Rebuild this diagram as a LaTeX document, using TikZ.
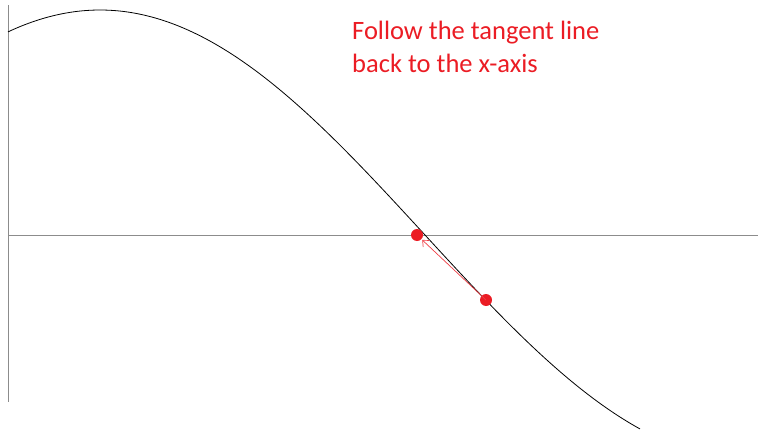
\documentclass[tikz,border=0pt]{standalone}
\usepackage{fontspec}
\setmainfont{Carlito}
\usetikzlibrary{arrows.meta}
\definecolor{myred}{RGB}{235,28,36}
\definecolor{axisgray}{RGB}{140,140,140}
\tikzset{
  axisline/.style={draw=axisgray, line width=0.9pt},
  curveline/.style={draw=black, line width=0.8pt},
  dot/.style={circle, fill=myred, inner sep=0pt, minimum size=12pt},
  tangentarrow/.style={draw=myred!85, line width=0.7pt, -{Straight Barb[length=5pt,width=9pt]}, shorten >=1pt},
  note/.style={text=myred, font=\fontsize{26.5}{33}\selectfont, align=left, anchor=base west, inner sep=0pt}
}
\begin{document}
\begin{tikzpicture}[x=1pt, y=-1pt]
  \useasboundingbox (0,0) rectangle (758,431);
  \coordinate (ytop) at (8,5);
  \coordinate (ybot) at (8,402);
  \coordinate (xleft) at (8,235);
  \coordinate (xright) at (758,235);
  \draw[axisline] (ytop) -- (ybot);
  \draw[axisline] (xleft) -- (xright);
  \draw[curveline] plot[domain=8:640, samples=200, smooth] (\x, {235-225*cos(deg((\x-100)*pi/650))});
  \node[dot] (p1) at (417,235) {};
  \node[dot] (p2) at (486,300) {};
  \draw[tangentarrow] (p2.center) -- (p1);
  \node[note] (label) at (352,72) {Follow the tangent line\\back to the x-axis};
\end{tikzpicture}
\end{document}
